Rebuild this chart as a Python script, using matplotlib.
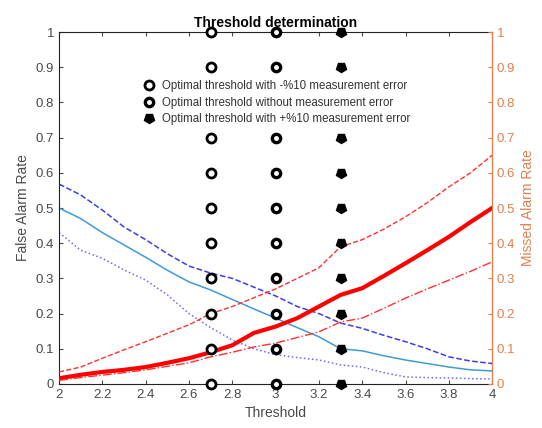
import matplotlib
matplotlib.use('Agg')
import matplotlib.pyplot as plt
from matplotlib.markers import MarkerStyle
from matplotlib.transforms import Affine2D

plt.rcParams['font.family'] = ['Liberation Sans', 'DejaVu Sans']

# threshold grid
thr = [2.0, 2.1, 2.2, 2.3, 2.4, 2.5, 2.6, 2.7, 2.8, 2.9, 3.0,
       3.1, 3.2, 3.3, 3.4, 3.5, 3.6, 3.7, 3.8, 3.9, 4.0]
xtick_vals = [2.0, 2.2, 2.4, 2.6, 2.8, 3.0, 3.2, 3.4, 3.6, 3.8, 4.0]

# false alarm rate (left axis)
fa_plus = [0.568, 0.537, 0.494, 0.446, 0.41, 0.37, 0.335, 0.315, 0.30, 0.275, 0.25,
           0.22, 0.20, 0.173, 0.158, 0.138, 0.12, 0.10, 0.077, 0.065, 0.058]
fa_nominal = [0.50, 0.47, 0.43, 0.395, 0.36, 0.323, 0.29, 0.267, 0.24, 0.213, 0.187,
              0.16, 0.134, 0.10, 0.094, 0.08, 0.068, 0.058, 0.048, 0.04, 0.037]
fa_minus = [0.43, 0.38, 0.357, 0.324, 0.295, 0.253, 0.20, 0.16, 0.125, 0.10, 0.083,
            0.075, 0.068, 0.054, 0.048, 0.032, 0.02, 0.018, 0.017, 0.015, 0.014]

# missed alarm rate (right axis)
ma_nominal = [0.016, 0.026, 0.034, 0.04, 0.048, 0.06, 0.073, 0.09, 0.11, 0.145, 0.163,
              0.187, 0.22, 0.253, 0.272, 0.307, 0.343, 0.38, 0.418, 0.46, 0.50]
ma_plus = [0.034, 0.048, 0.073, 0.097, 0.12, 0.144, 0.168, 0.20, 0.22, 0.245, 0.27,
           0.30, 0.33, 0.39, 0.41, 0.44, 0.475, 0.515, 0.56, 0.60, 0.65]
ma_minus = [0.01, 0.018, 0.025, 0.032, 0.04, 0.05, 0.06, 0.077, 0.09, 0.105, 0.116,
            0.132, 0.148, 0.176, 0.187, 0.215, 0.244, 0.27, 0.295, 0.32, 0.347]

# optimal threshold markers
opt_thr = [2.7, 3.0, 3.3]
opt_labels = ['Optimal threshold with -%10 measurement error',
              'Optimal threshold without measurement error',
              'Optimal threshold with +%10 measurement error']
marker_levels = [0.0, 0.1, 0.2, 0.3, 0.4, 0.5, 0.6, 0.7, 0.8, 0.9, 1.0]

gray = '#4a4a4a'
orange = '#e0804f'

fig = plt.figure(figsize=(5.42, 4.28), dpi=100)
ax = fig.add_axes([0.109, 0.103, 0.799, 0.822])
ax2 = ax.twinx()

ax.plot(thr, fa_plus, '--', color='#3c3cf0', lw=1.1)
ax.plot(thr, fa_nominal, '-', color='#3f9ad6', lw=1.1)
ax.plot(thr, fa_minus, ':', color='#6a6af5', lw=1.1)

ax2.plot(thr, ma_nominal, '-', color='#ff0000', lw=3)
ax2.plot(thr, ma_plus, '--', color='#ff3030', lw=1.0)
ax2.plot(thr, ma_minus, '-.', color='#ff3030', lw=1.0)

shield = MarkerStyle('p', transform=Affine2D().rotate_deg(180))
styles = [dict(marker='o', mfc='white', ms=6.5, mew=2),
          dict(marker='o', mfc='white', ms=6, mew=2.4),
          dict(marker=shield, mfc='black', ms=7, mew=1)]
for t, lab, st in zip(opt_thr, opt_labels, styles):
    ax2.plot([t] * len(marker_levels), marker_levels, ls='none', mec='black',
             label=lab, clip_on=False, zorder=5, **st)

leg = ax2.legend(loc='upper left', bbox_to_anchor=(0.17, 0.89), fontsize=8.3,
                 frameon=True, framealpha=1, edgecolor='none', fancybox=False,
                 handletextpad=0.5, borderpad=0.3, labelspacing=0.4, handlelength=1.2)
for txt in leg.get_texts():
    txt.set_color('#333333')
leg.set_zorder(10)

for a in (ax, ax2):
    a.set_xlim(2, 4)
    a.set_ylim(0, 1)
ax.set_xticks(xtick_vals)
ax.set_xticklabels([f'{v:g}' for v in xtick_vals])
ticks = [i / 10 for i in range(11)]
ax.set_yticks(ticks)
ax.set_yticklabels([f'{v:g}' for v in ticks])
ax2.set_yticks(ticks)
ax2.set_yticklabels([f'{v:g}' for v in ticks])

ax.tick_params(direction='in', top=True, colors=gray, labelsize=9.5, length=3)
ax.tick_params(axis='y', right=False)
ax2.tick_params(direction='in', colors=orange, labelsize=9.5, length=3)
for s in ('left', 'bottom', 'top'):
    ax.spines[s].set_color('#222222')
ax2.spines['right'].set_color(orange)
ax2.spines['left'].set_visible(False)
ax2.spines['top'].set_visible(False)
ax2.spines['bottom'].set_visible(False)

ax.set_title('Threshold determination', fontsize=10, fontweight='bold', pad=4)
ax.set_xlabel('Threshold', fontsize=10, color=gray)
ax.set_ylabel('False Alarm Rate', fontsize=10, color=gray)
ax2.set_ylabel('Missed Alarm Rate', fontsize=10, color=orange)

fig.savefig('out.png', dpi=100)
